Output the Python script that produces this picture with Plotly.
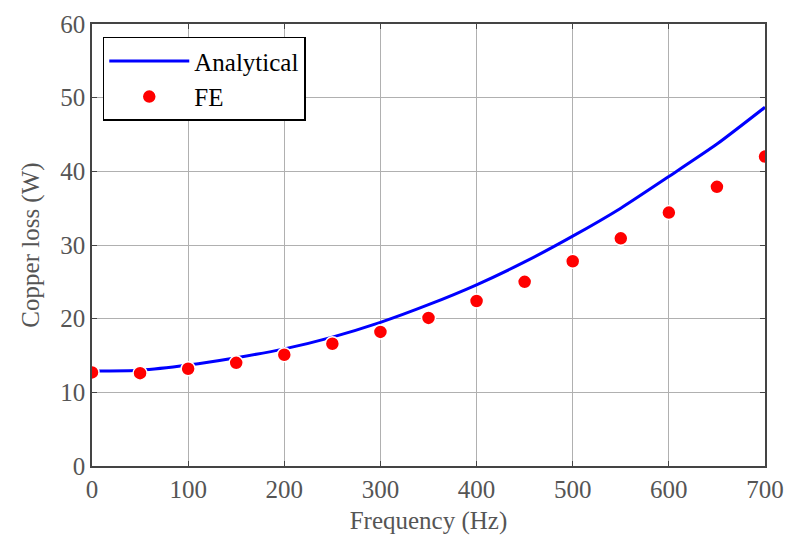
import plotly.graph_objects as go

# Frequency sweep (Hz)
freq = [0, 50, 100, 150, 200, 250, 300, 350, 400, 450, 500, 550, 600, 650, 700]

# Copper loss (W)
analytical = [12.9, 13.0, 13.7, 14.7, 15.9, 17.5, 19.5, 21.9, 24.6, 27.7, 31.2, 35.0, 39.3, 43.7, 48.7]
fe = [12.7, 12.6, 13.2, 14.0, 15.1, 16.6, 18.2, 20.1, 22.4, 25.0, 27.8, 30.9, 34.4, 37.9, 42.0]

x_ticks = [0, 100, 200, 300, 400, 500, 600, 700]
y_ticks = [0, 10, 20, 30, 40, 50, 60]

font_family = "Liberation Serif, Times New Roman, serif"
tick_color = "#555555"
font_size = 25

fig = go.Figure()
fig.add_trace(go.Scatter(
    x=freq, y=analytical, mode="lines", name="Analytical",
    line=dict(color="#0000ff", width=3, shape="spline", smoothing=0.6),
))
fig.add_trace(go.Scatter(
    x=freq, y=fe, mode="markers", name="FE",
    marker=dict(color="#ff0000", size=14, line=dict(color="white", width=1.5)),
))

axis_common = dict(
    showgrid=True, gridcolor="#b0b0b0", gridwidth=1,
    showline=True, linecolor="#444444", linewidth=1.5, mirror="ticks",
    ticks="inside", ticklen=5, tickcolor="#444444",
    tickfont=dict(family=font_family, size=font_size, color=tick_color),
    zeroline=False, automargin=False,
)

fig.update_xaxes(
    range=[0, 700], tickvals=x_ticks,
    title=dict(text="Frequency (Hz)", font=dict(family=font_family, size=font_size, color=tick_color), standoff=10),
    **axis_common,
)
fig.update_yaxes(
    range=[0, 60], tickvals=y_ticks,
    title=dict(text="Copper loss (W)", font=dict(family=font_family, size=font_size, color=tick_color), standoff=14),
    **axis_common,
)

fig.update_layout(
    width=792, height=539,
    margin=dict(l=92, r=27, t=24, b=73),
    paper_bgcolor="white", plot_bgcolor="white",
    font=dict(family=font_family, size=font_size, color="black"),
    legend=dict(
        x=0.016, y=0.971, xanchor="left", yanchor="top",
        bgcolor="white", bordercolor="black", borderwidth=1.5,
        font=dict(family=font_family, size=font_size, color="black"),
        tracegroupgap=0, itemwidth=80,
    ),
    showlegend=True,
)

fig.write_html("out.html")
